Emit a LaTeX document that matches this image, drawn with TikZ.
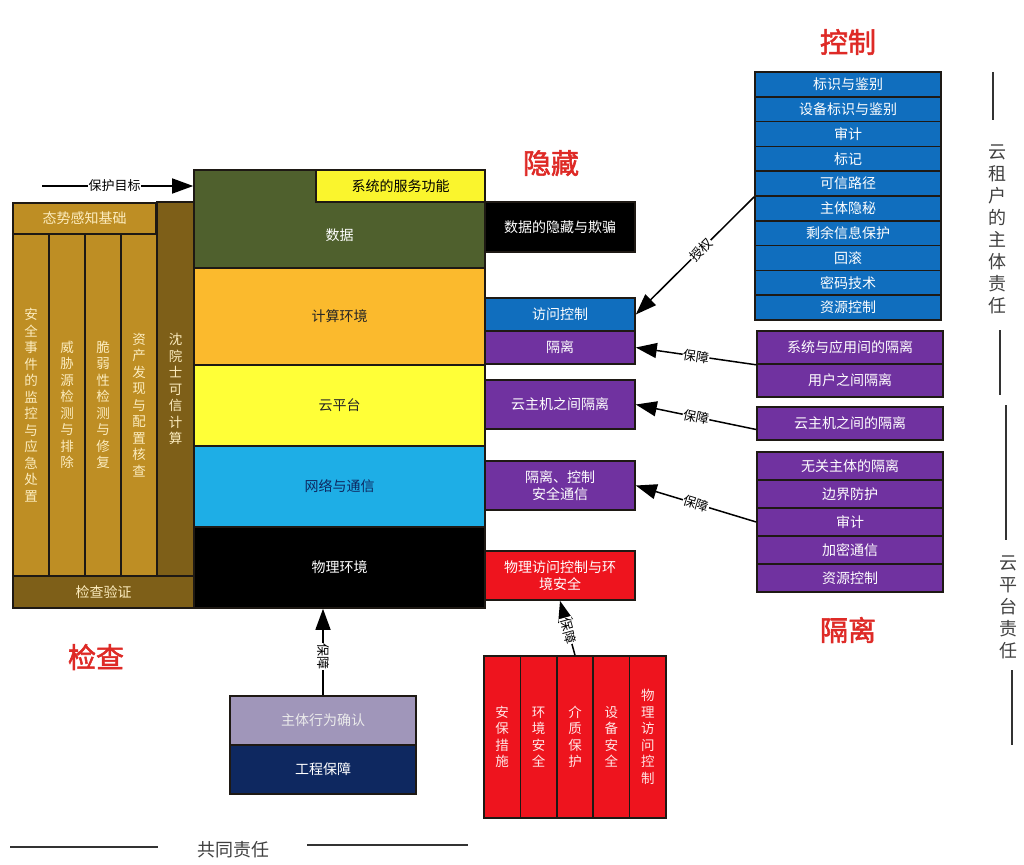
\documentclass[tikz,border=0pt]{standalone}
\usepackage{fontspec}
\newfontfamily\cjk{Noto Sans CJK SC}
\newfontfamily\cjkb[FakeBold=2]{Noto Sans CJK SC}
\usetikzlibrary{arrows.meta,calc}

\definecolor{datagreen}{RGB}{79,96,45}
\definecolor{svcyellow}{RGB}{250,245,45}
\definecolor{compute}{RGB}{251,186,45}
\definecolor{platyellow}{RGB}{255,255,55}
\definecolor{netblue}{RGB}{30,174,230}
\definecolor{gold}{RGB}{190,142,36}
\definecolor{darkgold}{RGB}{126,95,24}
\definecolor{cream}{RGB}{252,236,190}
\definecolor{ctlblue}{RGB}{16,110,190}
\definecolor{isopurple}{RGB}{112,50,160}
\definecolor{physred}{RGB}{238,20,30}
\definecolor{lilac}{RGB}{160,150,186}
\definecolor{navy}{RGB}{14,40,96}
\definecolor{titlered}{RGB}{222,42,38}
\definecolor{edge}{RGB}{30,25,20}

\tikzset{
  box/.style={draw=edge, line width=1.6pt, inner sep=0pt, align=center,
    font=\cjk\fontsize{14}{17}\selectfont},
  vbox/.style={box, font=\cjk\fontsize{13.5}{16.5}\selectfont},
  arr/.style={line width=1.5pt, -{Triangle[length=21pt,width=15pt]}},
  tag/.style={fill=white, inner sep=0.5pt, font=\cjk\fontsize{13}{13}\selectfont},
  headline/.style={text=titlered, font=\cjkb\fontsize{28}{30}\selectfont},
  resp/.style={align=center, text=black!75, font=\cjk\fontsize{18}{22}\selectfont},
  splitline/.style={line width=1.6pt, black!80}
}

\begin{document}
\begin{tikzpicture}[x=1pt,y=-1pt]
%%%%% START %%%%%
\useasboundingbox (0,0) rectangle (1024,864);

% left block: check
\node[box, fill=gold, text=cream, minimum width=143, minimum height=31] (aware) at (84.5,218.5) {态势感知基础};
\foreach \t [count=\i] in {安\\全\\事\\件\\的\\监\\控\\与\\应\\急\\处\\置, 威\\胁\\源\\检\\测\\与\\排\\除, 脆\\弱\\性\\检\\测\\与\\修\\复, 资\\产\\发\\现\\与\\配\\置\\核\\查}
  \node[vbox, fill=gold, text=cream, minimum width=36, minimum height=342] (col\i) at ({13+36*(\i-0.5)},405) {\t};
\node[vbox, fill=darkgold, text=cream, minimum width=37, minimum height=374] (trust) at (175.5,389) {沈\\院\\士\\可\\信\\计\\算};
\node[box, fill=darkgold, text=cream, minimum width=181, minimum height=32] (verify) at (103.5,592) {检查验证};

% main stack
\node[box, fill=datagreen, minimum width=291, minimum height=98] (data) at (339.5,219) {};
\node[text=white, font=\cjk\fontsize{14}{17}\selectfont] (datalbl) at (339.5,235) {数据};
\node[box, fill=svcyellow, minimum width=169, minimum height=32] (svc) at (400.5,186) {系统的服务功能};
\node[box, fill=compute, text=black!85, minimum width=291, minimum height=97] (comp) at (339.5,316.5) {计算环境};
\node[box, fill=platyellow, text=black!85, minimum width=291, minimum height=81] (plat) at (339.5,405.5) {云平台};
\node[box, fill=netblue, text=navy, minimum width=291, minimum height=81] (net) at (339.5,486.5) {网络与通信};
\node[box, fill=black, text=white, minimum width=291, minimum height=81] (phys) at (339.5,567.5) {物理环境};

% middle column
\node[box, fill=black, text=white, minimum width=150, minimum height=50] (hide) at (560,227) {数据的隐藏与欺骗};
\node[box, fill=ctlblue, text=white, minimum width=150, minimum height=33] (access) at (560,314.5) {访问控制};
\node[box, fill=isopurple, text=white, minimum width=150, minimum height=33] (iso) at (560,347.5) {隔离};
\node[box, fill=isopurple, text=white, minimum width=150, minimum height=49] (vmiso) at (560,404.5) {云主机之间隔离};
\node[box, fill=isopurple, text=white, minimum width=150, minimum height=49] (netiso) at (560,485.5) {隔离、控制\\安全通信};
\node[box, fill=physred, text=white, minimum width=150, minimum height=49] (physbox) at (560,575.5) {物理访问控制与环\\境安全};

% right: control list
\foreach \t [count=\i] in {标识与鉴别, 设备标识与鉴别, 审计, 标记, 可信路径, 主体隐秘, 剩余信息保护, 回滚, 密码技术, 资源控制}
  \node[box, fill=ctlblue, text=white, minimum width=186, minimum height=24.8] (ctl\i) at (848,{72+24.8*(\i-0.5)}) {\t};

% right: isolation
\node[box, fill=isopurple, text=white, minimum width=186, minimum height=33] (sysiso) at (850,347.5) {系统与应用间的隔离};
\node[box, fill=isopurple, text=white, minimum width=186, minimum height=33] (useriso) at (850,380.5) {用户之间隔离};
\node[box, fill=isopurple, text=white, minimum width=186, minimum height=33] (vm2) at (850,423.5) {云主机之间的隔离};
\foreach \t [count=\i] in {无关主体的隔离, 边界防护, 审计, 加密通信, 资源控制}
  \node[box, fill=isopurple, text=white, minimum width=186, minimum height=28] (sec\i) at (850,{452+28*(\i-0.5)}) {\t};

% bottom
\node[box, fill=lilac, text=white!92!black, minimum width=186, minimum height=49] (behav) at (323,720.5) {主体行为确认};
\node[box, fill=navy, text=white, minimum width=186, minimum height=49] (eng) at (323,769.5) {工程保障};
\foreach \t [count=\i] in {安\\保\\措\\施, 环\\境\\安\\全, 介\\质\\保\\护, 设\\备\\安\\全, 物\\理\\访\\问\\控\\制}
  \node[vbox, fill=physred, text=white!90!red, minimum width=36.4, minimum height=162] (red\i) at ({484+36.4*(\i-0.5)},737) {\t};

% headlines
\node[headline] (ctltitle) at (848,42) {控制};
\node[headline] (hidetitle) at (551,163) {隐藏};
\node[headline] (chktitle) at (96,657) {检查};
\node[headline] (isotitle) at (848,630) {隔离};

% arrows
\coordinate (goal) at (42,186);
\draw[arr] (goal) -- (goal -| data.west) node[tag, pos=0.48] {保护目标};
\draw[arr] (ctl5.south west) -- (access.east) node[tag, sloped, pos=0.45] {授权};
\draw[arr] (sysiso.south west) -- (iso.east) node[tag, sloped, midway] {保障};
\draw[arr] ($(vm2.west)+(0,6)$) -- (vmiso.east) node[tag, sloped, midway] {保障};
\draw[arr] (sec3.west) -- (netiso.east) node[tag, sloped, midway] {保障};
\draw[arr] (behav.north) -- (behav.north |- phys.south) node[tag, pos=0.45, rotate=-90] {保障};
\draw[arr] (red3.north) -- (physbox.south) node[tag, sloped, pos=0.45] {保障};

% responsibility
\draw[splitline] (993,72) -- (993,120);
\node[resp] (tenant) at (997,229) {云\\租\\户\\的\\主\\体\\责\\任};
\draw[splitline] (1000,330) -- (1000,395);
\draw[splitline] (1006,405) -- (1006,540);
\node[resp] (platresp) at (1008,607) {云\\平\\台\\责\\任};
\draw[splitline] (1012,670) -- (1012,745);
\draw[splitline] (10,847) -- (158,847);
\node[resp] (shared) at (233,850) {共同责任};
\draw[splitline] (307,845) -- (468,845);
%%%%% END %%%%%
\end{tikzpicture}
\end{document}
